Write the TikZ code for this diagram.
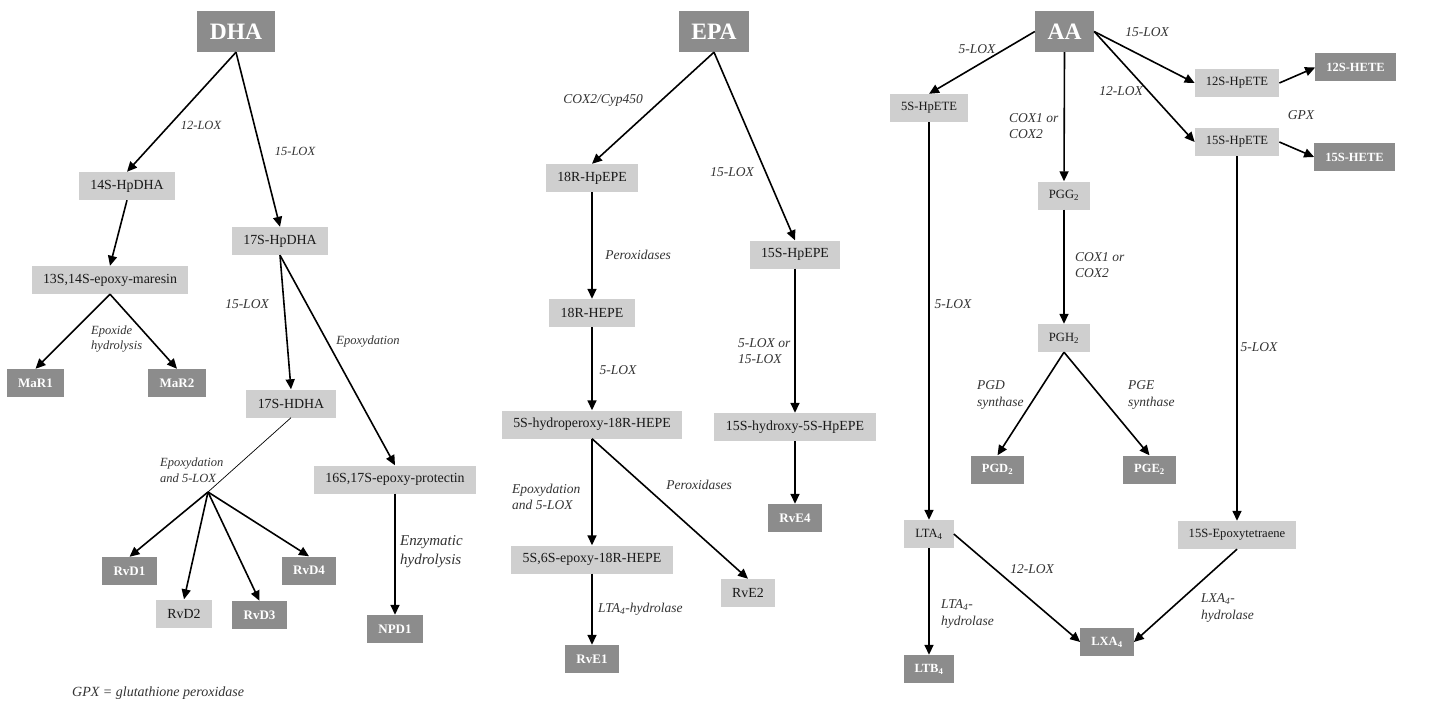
\documentclass[tikz,border=0pt]{standalone}
\usepackage{fontspec}
\setmainfont{Liberation Serif}
\usetikzlibrary{arrows.meta}
\definecolor{lightbox}{RGB}{207,207,207}
\definecolor{darkbox}{RGB}{140,140,140}
\tikzset{
  box/.style={fill=lightbox, draw=none, inner xsep=11.5pt, inner ysep=0pt, minimum height=28pt, text=black!90, font=\fontsize{13.9}{16}\selectfont},
  dbox/.style={fill=darkbox, draw=none, inner xsep=11.5pt, inner ysep=0pt, minimum height=28pt, text=white, font=\fontsize{13}{16}\selectfont\bfseries},
  aabox/.style={box, inner xsep=11pt, font=\fontsize{12.6}{15}\selectfont},
  aadbox/.style={dbox, inner xsep=11pt, font=\fontsize{12.5}{15}\selectfont\bfseries},
  title/.style={fill=darkbox, draw=none, inner xsep=12.5pt, inner ysep=0pt, minimum height=41pt, text=white, font=\fontsize{23.5}{26}\selectfont\bfseries},
  arr/.style={-{Triangle[length=10pt,width=9pt]}, line width=1.6pt, black},
  thinline/.style={line width=0.7pt, black},
  lbl/.style={inner sep=0pt, align=left, text=black!80, font=\fontsize{13.5}{16.5}\selectfont\itshape},
  lbls/.style={lbl, font=\fontsize{12.5}{15.5}\selectfont\itshape},
  lblb/.style={lbl, font=\fontsize{15}{19}\selectfont\itshape},
}
\begin{document}
\begin{tikzpicture}[x=1pt,y=-1pt]
\path[use as bounding box, fill=white] (0,0) rectangle (1450,706);

% ---------------- DHA ----------------
\node[title] (DHA) at (236,31.5) {DHA};
\node[box] (hp14) at (127,186) {14S-HpDHA};
\node[box] (mar) at (110,280) {13S,14S-epoxy-maresin};
\node[dbox] (mar1) at (35.5,383) {MaR1};
\node[dbox] (mar2) at (177,383) {MaR2};
\node[box] (hp17) at (280,241) {17S-HpDHA};
\node[box] (h17) at (291,403.5) {17S-HDHA};
\node[box] (prot) at (395,479.5) {16S,17S-epoxy-protectin};
\node[dbox] (npd1) at (395,629) {NPD1};
\node[dbox] (rvd1) at (129.5,571) {RvD1};
\node[box] (rvd2) at (184,613.5) {RvD2};
\node[dbox] (rvd3) at (259.5,615) {RvD3};
\node[dbox] (rvd4) at (309,570.5) {RvD4};
\coordinate (br) at (208,492);

\node[lbls] (l12lox) at (201,125) {12-LOX};
\node[lbls] (l15lox) at (295,151) {15-LOX};
\node[lbls, anchor=west] (lepoh) at (91,339) {Epoxide\\hydrolysis};
\node[lbl] (l15loxb) at (247,304) {15-LOX};
\node[lbls] (lepox) at (368,342) {Epoxydation};
\node[lbls, anchor=west] (lepox5) at (160,470) {Epoxydation\\and 5-LOX};
\node[lblb, anchor=west] (lenz) at (400,552) {Enzymatic\\hydrolysis};
\node[lbl, anchor=west, font=\fontsize{14}{16}\selectfont\itshape] (lgpx) at (72,693) {GPX = glutathione peroxidase};

\draw[arr] (DHA.south) -- (hp14.north);
\draw[arr] (DHA.south) -- (hp17.north);
\draw[arr] (hp14.south) -- (mar.north);
\draw[arr] (mar.south) -- (mar1.north);
\draw[arr] (mar.south) -- (mar2.north);
\draw[arr] (hp17.south) -- (h17.north);
\draw[arr] (hp17.south) -- (prot.north);
\draw[thinline] (h17.south) -- (br);
\draw[arr] (br) -- (rvd1.north);
\draw[arr] (br) -- (rvd2.north);
\draw[arr] (br) -- (rvd3.north);
\draw[arr] (br) -- (rvd4.north);
\draw[arr] (prot.south) -- (npd1.north);

% ---------------- EPA ----------------
\node[title] (EPA) at (714,31.5) {EPA};
\node[box] (hpepe18) at (592,178) {18R-HpEPE};
\node[box] (hepe18) at (592,313) {18R-HEPE};
\node[box] (hp5) at (592,424.5) {5S-hydroperoxy-18R-HEPE};
\node[box] (ep56) at (592,559.5) {5S,6S-epoxy-18R-HEPE};
\node[dbox] (rve1) at (592,659) {RvE1};
\node[box] (rve2) at (748,593) {RvE2};
\node[box] (hpepe15) at (795,254.5) {15S-HpEPE};
\node[box] (hy15) at (795,427) {15S-hydroxy-5S-HpEPE};
\node[dbox] (rve4) at (795,518) {RvE4};

\node[lbl] (lcox2) at (603,100) {COX2/Cyp450};
\node[lbl] (l15loxe) at (732,172) {15-LOX};
\node[lbl] (lper1) at (638,255) {Peroxidases};
\node[lbl] (l5loxe) at (618,370) {5-LOX};
\node[lbl, anchor=west] (l5or15) at (738,351) {5-LOX or\\15-LOX};
\node[lbl, anchor=west] (lepox5e) at (512,497) {Epoxydation\\and 5-LOX};
\node[lbl] (lper2) at (699,485) {Peroxidases};
\node[lbl, anchor=west] (llta4h) at (598,609) {LTA\textsubscript{4}-hydrolase};

\draw[arr] (EPA.south) -- (hpepe18.north);
\draw[arr] (EPA.south) -- (hpepe15.north);
\draw[arr] (hpepe18.south) -- (hepe18.north);
\draw[arr] (hepe18.south) -- (hp5.north);
\draw[arr] (hp5.south) -- (ep56.north);
\draw[arr] (hp5.south) -- (rve2.north);
\draw[arr] (ep56.south) -- (rve1.north);
\draw[arr] (hpepe15.south) -- (hy15.north);
\draw[arr] (hy15.south) -- (rve4.north);

% ---------------- AA ----------------
\node[title] (AA) at (1064.5,31.5) {AA};
\node[aabox] (hpete5) at (929,108) {5S-HpETE};
\node[aabox] (pgg2) at (1064,195.5) {PGG\textsubscript{2}};
\node[aabox] (pgh2) at (1064,338) {PGH\textsubscript{2}};
\node[aadbox] (pgd2) at (997.5,469.5) {PGD\textsubscript{2}};
\node[aadbox] (pge2) at (1149.5,469.5) {PGE\textsubscript{2}};
\node[aabox] (hpete12) at (1237,83) {12S-HpETE};
\node[aabox] (hpete15) at (1237,142) {15S-HpETE};
\node[aadbox] (hete12) at (1355.5,67.5) {12S-HETE};
\node[aadbox] (hete15) at (1354.5,157) {15S-HETE};
\node[aabox] (lta4) at (929,534) {LTA\textsubscript{4}};
\node[aadbox] (ltb4) at (929,669) {LTB\textsubscript{4}};
\node[aadbox] (lxa4) at (1107,642) {LXA\textsubscript{4}};
\node[aabox] (epoxy) at (1237,535) {15S-Epoxytetraene};

\node[lbl] (l5loxa) at (977,49) {5-LOX};
\node[lbl, anchor=west] (lcoxa) at (1009,126) {COX1 or\\COX2};
\node[lbl] (l15loxa) at (1147,32) {15-LOX};
\node[lbl] (l12loxa) at (1121,91) {12-LOX};
\node[lbl] (lgpxa) at (1301,115) {GPX};
\node[lbl, anchor=west] (lcoxb) at (1075,265) {COX1 or\\COX2};
\node[lbl] (l5loxb) at (953,304) {5-LOX};
\node[lbl] (l5loxc) at (1259,347) {5-LOX};
\node[lbl, anchor=west] (lpgd) at (977,395) {PGD\\synthase};
\node[lbl, anchor=west] (lpge) at (1128,395) {PGE\\synthase};
\node[lbl] (l12loxb) at (1032,569) {12-LOX};
\node[lbl, anchor=west] (llta4a) at (941,614) {LTA\textsubscript{4}-\\hydrolase};
\node[lbl, anchor=west] (llxa4) at (1201,608) {LXA\textsubscript{4}-\\hydrolase};

\draw[arr] (AA.west) -- (hpete5.north);
\draw[arr] (AA.south) -- (pgg2.north);
\draw[arr] (AA.east) -- (hpete12.west);
\draw[arr] (AA.east) -- (hpete15.west);
\draw[arr] (hpete12.east) -- (hete12.west);
\draw[arr] (hpete15.east) -- (hete15.west);
\draw[arr] (hpete5.south) -- (lta4.north);
\draw[arr] (hpete15.south) -- (epoxy.north);
\draw[arr] (pgg2.south) -- (pgh2.north);
\draw[arr] (pgh2.south) -- (pgd2.north);
\draw[arr] (pgh2.south) -- (pge2.north);
\draw[arr] (lta4.east) -- (lxa4.west);
\draw[arr] (epoxy.south) -- (lxa4.east);
\draw[arr] (lta4.south) -- (ltb4.north);
\end{tikzpicture}
\end{document}
